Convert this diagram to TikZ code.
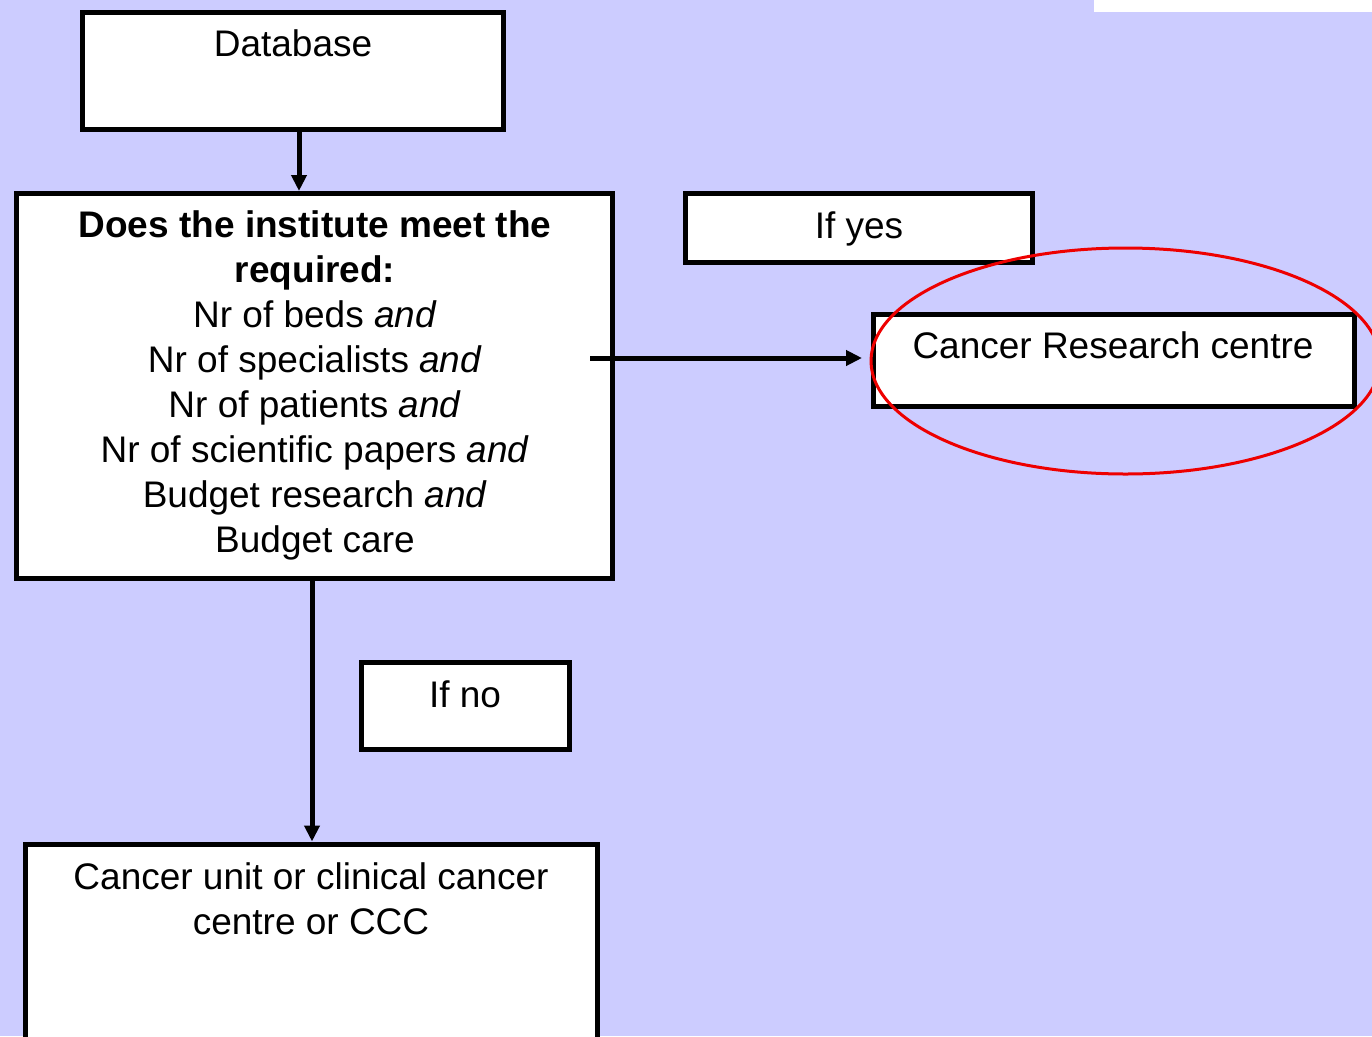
\documentclass[tikz,border=0pt]{standalone}
\usepackage{fontspec}
\setmainfont{Liberation Sans}
\usetikzlibrary{arrows.meta}
\definecolor{bg}{HTML}{CCCCFF}
\definecolor{ring}{HTML}{EE0000}
\begin{document}
\begin{tikzpicture}[x=1pt,y=-1pt,
  box/.style={draw=black, line width=5pt, fill=white, inner sep=0pt, rectangle},
  txt/.style={inner sep=0pt, font=\fontsize{37}{45}\selectfont, align=center},
  arr/.style={draw=black, line width=5pt, -{Triangle[length=16pt,width=15pt]}}]
\useasboundingbox (0,0) rectangle (1372,1036);
\clip (0,0) rectangle (1372,1036);
\fill[bg] (0,0) rectangle (1372,1036);
\fill[white] (1094,0) rectangle (1372,12);
% boxes
\node[box, minimum width=421pt, minimum height=117pt] (db) at (293,71) {};
\node[box, minimum width=596pt, minimum height=385pt] (q) at (314.5,386) {};
\node[box, minimum width=347pt, minimum height=69pt] (yes) at (859,228) {};
\node[box, minimum width=481pt, minimum height=92pt] (crc) at (1114,360.5) {};
\node[box, minimum width=208pt, minimum height=87pt] (no) at (465.5,706) {};
\node[box, minimum width=572pt, minimum height=256pt] (unit) at (311.5,972) {};
% texts
\node[txt, anchor=base] (dbt) at (293,56) {Database};
\node[txt, anchor=north] (qt) at (315,210) {\textbf{Does the institute meet the}\\\textbf{required:}\\Nr of beds \textit{and}\\Nr of specialists \textit{and}\\Nr of patients \textit{and}\\Nr of scientific papers \textit{and}\\Budget research \textit{and}\\Budget care};
\node[txt, anchor=base] (yest) at (859,238) {If yes};
\node[txt, anchor=base] (crct) at (1113,358) {Cancer Research centre};
\node[txt, anchor=base] (not) at (465,707) {If no};
\node[txt, anchor=north] (unitt) at (311,862) {Cancer unit or clinical cancer\\centre or CCC};
% ring
\draw[ring, line width=3pt] (1125.5,361) ellipse [x radius=254.5pt, y radius=113pt];
% connectors
\draw[arr] ([xshift=6pt]db.south) -- ([xshift=6pt]db.south |- q.north);
\draw[arr] ([xshift=-2.5pt]q.south) -- ([xshift=-2.5pt]q.south |- unit.north);
\draw[arr, shorten >=9pt] ([xshift=-25pt,yshift=2.5pt]q.east |- crc.west) -- ([yshift=2.5pt]crc.west);
\end{tikzpicture}
\end{document}
